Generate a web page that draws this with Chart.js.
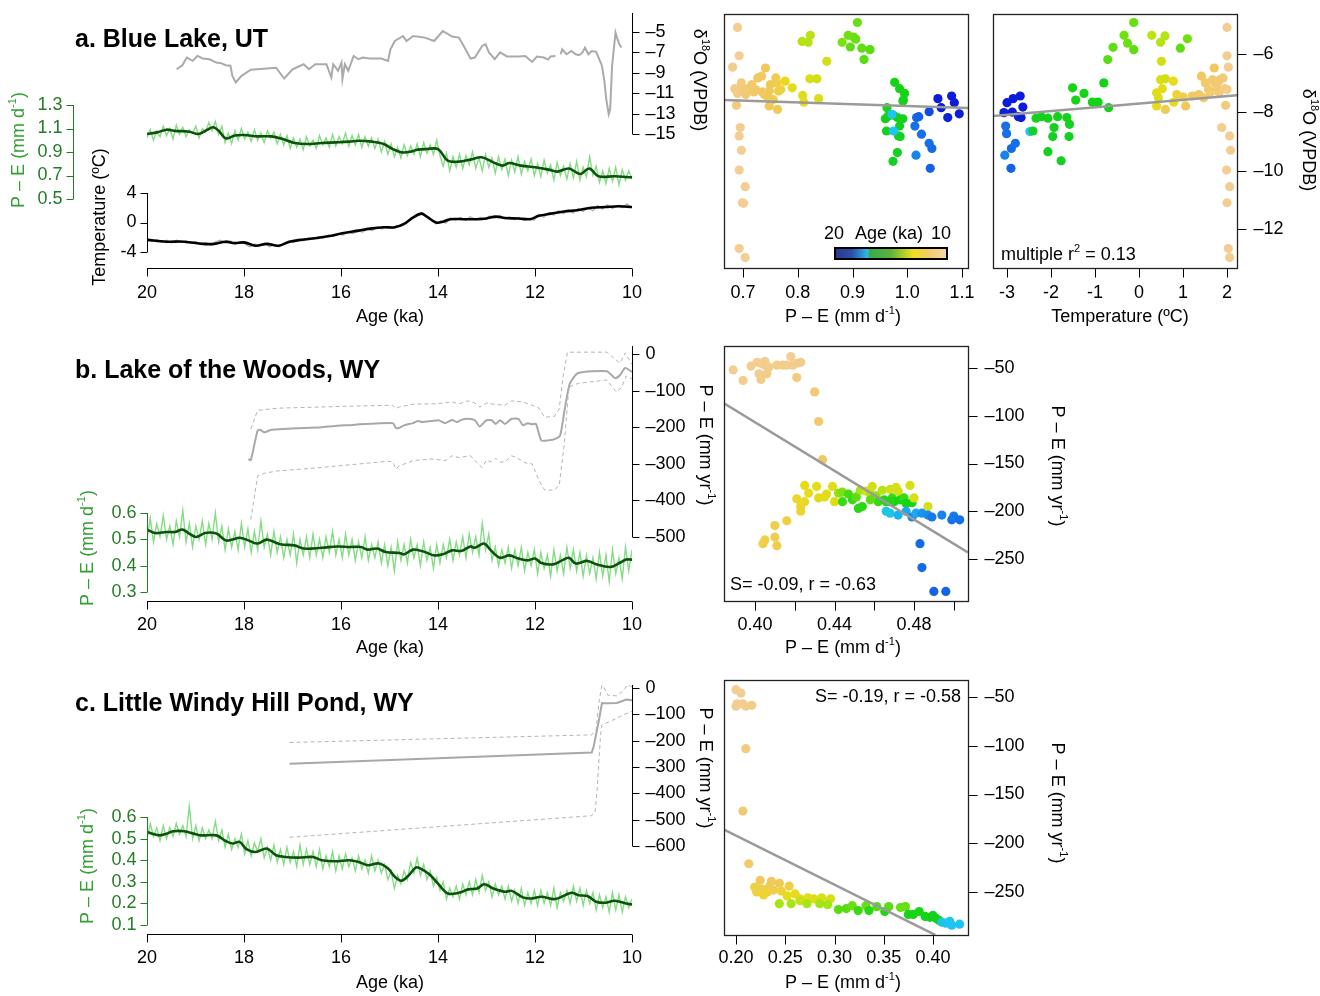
<!DOCTYPE html>
<html><head><meta charset="utf-8">
<script src="https://cdn.jsdelivr.net/npm/chart.js@4.4.1/dist/chart.umd.min.js"></script>
<style>
html,body{margin:0;padding:0;background:#fff;}
#wrap{position:relative;width:1320px;height:996px;overflow:hidden;background:#fff;}
canvas{position:absolute;left:0;top:0;}
</style></head><body><div id="wrap">
<canvas id="cA" width="1320" height="996"></canvas>
<canvas id="cA1" width="1320" height="996"></canvas>
<canvas id="cA2" width="1320" height="996"></canvas>
<canvas id="cB" width="1320" height="996"></canvas>
<canvas id="cB1" width="1320" height="996"></canvas>
<canvas id="cC" width="1320" height="996"></canvas>
<canvas id="cC1" width="1320" height="996"></canvas>
</div>
<script>
// ================= DATA =================
const ageTicks=[20,18,16,14,12,10];
const ageLabels=['20','18','16','14','12','10'];

// --- a. Blue Lake, UT ---
const blD18OAge=[19.39,19.27,19.18,19.06,18.96,18.85,18.71,18.57,18.47,18.38,18.28,18.24,18.17,18.05,17.86,17.34,17.17,17.0,16.77,16.66,16.53,16.3,16.2,16.16,16.06,15.99,15.97,15.92,15.85,15.74,15.64,15.55,15.41,15.17,15.03,14.98,14.89,14.72,14.65,14.51,14.27,14.08,13.9,13.71,13.57,13.47,13.33,13.24,13.09,13.02,12.95,12.83,12.72,12.58,12.34,12.2,12.06,11.96,11.82,11.73,11.68,11.58,11.52,11.47,11.44,11.35,11.25,11.16,11.09,11.02,10.97,10.9,10.83,10.74,10.69,10.62,10.57,10.53,10.48,10.45,10.41,10.34,10.31,10.26,10.22];
const blD18O=[-8.65,-8.26,-7.5,-7.83,-7.35,-7.6,-7.67,-8.0,-8.06,-8.26,-8.3,-9.3,-9.95,-9.3,-8.7,-8.5,-9.56,-8.65,-8.16,-8.65,-8.16,-8.16,-9.46,-8.16,-8.8,-8.0,-9.6,-8.16,-8.8,-7.35,-7.67,-7.5,-7.6,-7.6,-7.83,-6.7,-5.88,-5.39,-5.88,-5.39,-5.55,-5.88,-4.9,-5.45,-5.55,-6.37,-7.6,-7.5,-6.37,-6.2,-7.0,-7.67,-7.0,-7.4,-7.4,-7.35,-7.93,-7.4,-7.5,-7.7,-7.4,-7.35,null,-7.18,-6.7,-7.18,-6.86,-7.18,-7.28,-7.0,-6.53,-7.18,-6.86,-6.95,-7.5,-8.3,-9.8,-11.6,-13.05,-12.56,-8.3,-5.07,-5.55,-6.2,-6.53];
const blPEsmAge=[20.0,19.79,19.6,19.42,19.13,18.94,18.75,18.64,18.52,18.38,18.19,18.0,17.72,17.43,17.2,16.96,16.68,16.4,16.11,15.83,15.64,15.36,15.12,14.93,14.75,14.56,14.42,14.23,14.0,13.8,13.57,13.33,13.1,12.86,12.67,12.53,12.29,12.0,11.72,11.54,11.3,11.07,10.88,10.69,10.36,10.0];
const blPEsm=[1.053,1.067,1.09,1.08,1.073,1.053,1.09,1.11,1.08,1.016,1.04,1.045,1.033,1.033,1.01,0.977,0.968,0.977,0.982,0.988,0.996,0.988,0.968,0.925,0.897,0.903,0.92,0.925,0.925,0.826,0.818,0.835,0.855,0.812,0.784,0.806,0.784,0.77,0.75,0.733,0.76,0.713,0.76,0.693,0.693,0.684];
const blPEraw=[1.02,1.09,1.00,1.08,1.03,1.12,1.04,1.10,1.01,1.13,1.05,1.11,1.03,1.09,1.06,1.12,1.02,1.10,1.07,1.15,1.08,1.16,1.05,1.12,0.98,1.06,0.97,1.08,1.00,1.10,1.01,1.07,0.99,1.09,1.00,1.06,0.98,1.08,1.02,1.07,0.97,1.05,0.96,1.04,0.93,1.02,0.94,1.01,0.92,1.03,0.95,1.00,0.93,1.04,0.96,1.02,0.94,1.05,0.95,1.03,0.97,1.06,0.95,1.04,0.96,1.05,0.94,1.03,0.95,1.02,0.93,1.01,0.90,0.99,0.88,0.97,0.86,0.94,0.85,0.96,0.87,0.95,0.88,0.97,0.86,0.98,0.89,0.96,0.88,1.00,0.87,0.78,0.89,0.74,0.86,0.77,0.88,0.76,0.87,0.79,0.90,0.76,0.85,0.74,0.88,0.77,0.85,0.72,0.86,0.75,0.84,0.70,0.83,0.73,0.86,0.71,0.82,0.74,0.84,0.70,0.80,0.69,0.83,0.72,0.79,0.66,0.81,0.70,0.78,0.67,0.80,0.68,0.82,0.66,0.77,0.69,0.86,0.70,0.78,0.64,0.74,0.63,0.76,0.65,0.77,0.62,0.75,0.66,0.74,0.67];
const blTsmAge=[20.0,19.6,19.23,18.85,18.61,18.38,18.19,18.0,17.76,17.53,17.29,17.06,16.77,16.49,16.2,15.97,15.64,15.36,15.12,14.89,14.7,14.51,14.34,14.23,14.04,13.9,13.75,13.47,13.19,13.0,12.81,12.62,12.34,12.1,11.92,11.68,11.4,11.13,10.84,10.55,10.26,10.0];
const blTsm=[-2.35,-2.6,-2.6,-2.9,-2.9,-2.6,-2.8,-2.7,-3.15,-2.9,-3.15,-2.6,-2.3,-2.1,-1.8,-1.45,-1.1,-0.8,-0.65,-0.65,-0.2,0.7,1.2,0.8,0.0,0.1,0.45,0.45,0.45,0.55,0.8,0.6,0.55,0.45,0.9,1.2,1.5,1.65,2.0,2.1,2.2,2.1];
const blTraw=[-2.1,-2.6,-2.3,-2.7,-2.4,-2.8,-2.4,-2.7,-2.5,-2.8,-2.6,-3.0,-2.7,-3.1,-2.6,-2.4,-2.8,-2.5,-2.9,-2.6,-2.9,-3.3,-2.9,-3.2,-2.8,-3.3,-3.0,-3.3,-2.8,-2.5,-2.7,-2.3,-2.5,-2.1,-2.3,-1.9,-2.1,-1.7,-1.9,-1.5,-1.7,-1.3,-1.5,-1.1,-1.3,-0.9,-1.1,-0.6,-0.9,-0.5,-0.8,-0.4,-0.5,0.0,0.6,0.9,1.4,0.9,0.3,-0.2,0.2,-0.1,0.6,0.3,0.7,0.3,0.8,0.4,0.7,0.5,0.9,0.6,1.0,0.5,0.8,0.4,0.7,0.3,0.6,0.3,1.1,0.7,1.3,1.0,1.6,1.2,1.7,1.3,1.9,1.5,2.0,1.6,2.3,1.8,2.4,1.9,2.3,2.0,2.5,2.0];

// --- b. Lake of the Woods, WY ---
const lwYrAge=[17.91,17.86,17.72,17.67,17.58,17.43,16.4,15.92,14.93,14.87,14.8,14.7,14.6,14.51,14.42,14.32,14.13,13.99,13.85,13.71,13.61,13.52,13.38,13.24,13.14,13.0,12.89,12.81,12.72,12.62,12.48,12.34,12.25,12.15,12.06,11.98,11.87,11.73,11.58,11.48,11.38,11.28,11.11,10.52,10.35,10.25,10.14,10.0];
const lwYr=[-287,-290,-209,-207,-214,-207,-200,-195,-189,-202,-202,-195,-191,-189,-183,-186,-183,-181,-189,-180,-186,-180,-177,-181,-198,-181,-181,-191,-181,-191,-177,-177,-195,-189,-192,-191,-236,-236,-232,-222,-145,-80,-52,-47,-66,-58,-38,-49];
const lwUpAge=[17.86,17.72,17.3,15.92,14.93,14.87,14.8,14.51,14.04,13.71,13.57,13.38,13.24,13.14,13.0,12.81,12.62,12.48,12.25,12.06,11.92,11.8,11.6,11.5,11.42,11.33,10.52,10.25,10.14,10.0];
const lwUp=[-205,-154,-148,-143,-140,-149,-145,-137,-136,-131,-136,-128,-134,-145,-134,-138,-140,-128,-131,-140,-148,-173,-170,-150,-60,5,5,-25,3,-28];
const lwLoAge=[17.86,17.72,17.58,17.34,16.4,15.03,14.93,14.87,14.8,14.51,14.13,13.85,13.71,13.57,13.33,13.24,13.09,13.0,12.9,12.81,12.72,12.62,12.48,12.39,12.25,12.15,12.06,11.92,11.8,11.6,11.5,11.4,11.3,11.1,10.52,10.32,10.22,10.12,10.0];
const lwLo=[-452,-333,-326,-320,-310,-293,-295,-314,-306,-291,-287,-291,-278,-283,-278,-291,-310,-290,-295,-285,-295,-295,-278,-283,-293,-300,-300,-345,-372,-372,-358,-250,-90,-80,-71,-104,-92,-60,-68];
const lwPEsmAge=[20.0,19.84,19.6,19.42,19.27,19.13,18.99,18.8,18.57,18.38,18.24,18.09,17.91,17.72,17.53,17.25,16.96,16.77,16.4,16.07,15.83,15.59,15.45,15.26,15.08,14.79,14.7,14.51,14.27,14.08,13.9,13.71,13.52,13.33,13.24,13.05,12.91,12.72,12.53,12.34,12.15,12.0,11.87,11.63,11.44,11.3,11.16,10.92,10.74,10.45,10.26,10.12,10.0];
const lwPEsm=[0.537,0.524,0.528,0.528,0.537,0.522,0.509,0.524,0.522,0.496,0.499,0.506,0.496,0.484,0.499,0.481,0.477,0.465,0.468,0.473,0.471,0.471,0.461,0.465,0.452,0.448,0.443,0.461,0.452,0.439,0.443,0.458,0.456,0.473,0.468,0.484,0.458,0.43,0.439,0.427,0.42,0.427,0.41,0.405,0.42,0.43,0.408,0.418,0.405,0.395,0.41,0.423,0.423];
const lwPEraw=[0.50,0.58,0.49,0.56,0.51,0.59,0.50,0.55,0.48,0.57,0.51,0.61,0.49,0.56,0.47,0.55,0.50,0.57,0.48,0.56,0.50,0.60,0.49,0.55,0.46,0.54,0.47,0.53,0.46,0.56,0.47,0.54,0.45,0.53,0.46,0.57,0.47,0.52,0.44,0.53,0.45,0.51,0.43,0.50,0.44,0.52,0.41,0.50,0.44,0.51,0.43,0.52,0.44,0.50,0.43,0.51,0.45,0.53,0.44,0.50,0.43,0.52,0.44,0.50,0.42,0.49,0.43,0.51,0.42,0.48,0.43,0.49,0.41,0.48,0.40,0.47,0.38,0.49,0.42,0.48,0.41,0.50,0.43,0.48,0.40,0.49,0.42,0.47,0.39,0.48,0.41,0.48,0.43,0.50,0.42,0.49,0.44,0.51,0.43,0.52,0.45,0.51,0.44,0.56,0.46,0.52,0.42,0.47,0.40,0.46,0.41,0.47,0.39,0.46,0.40,0.47,0.38,0.45,0.40,0.46,0.37,0.45,0.39,0.44,0.36,0.46,0.38,0.44,0.37,0.47,0.39,0.46,0.38,0.45,0.36,0.44,0.37,0.43,0.35,0.45,0.36,0.44,0.34,0.46,0.37,0.43,0.35,0.47,0.38,0.46];

// --- c. Little Windy Hill Pond, WY ---
const lhYrAge=[17.06,10.83,10.79,10.68,10.62,10.5,10.31,10.12,10.0];
const lhYr=[-288,-245,-222,-121,-58,-58,-57,-44,-47];
const lhUpAge=[17.06,10.83,10.74,10.68,10.62,10.57,10.5,10.31,10.17,10.1,10.0];
const lhUp=[-207,-178,-159,-52,11,0,-27,-30,-8,11,5];
const lhLoAge=[17.06,10.83,10.76,10.72,10.65,10.62,10.45,10.31,10.17,10.0];
const lhLo=[-567,-485,-470,-387,-184,-140,-127,-114,-101,-89];
const lhPEsmAge=[20.0,19.89,19.75,19.6,19.46,19.23,19.04,18.9,18.57,18.38,18.24,18.09,17.95,17.76,17.53,17.34,17.15,16.87,16.58,16.4,16.11,15.83,15.64,15.45,15.22,15.03,14.89,14.75,14.6,14.46,14.37,14.18,14.0,13.8,13.57,13.38,13.19,13.05,12.86,12.62,12.48,12.25,12.06,11.87,11.58,11.25,11.1,10.92,10.74,10.55,10.36,10.12,10.0];
const lhPEsm=[0.531,0.523,0.515,0.523,0.534,0.534,0.523,0.515,0.515,0.489,0.477,0.485,0.451,0.438,0.454,0.423,0.415,0.412,0.415,0.4,0.395,0.4,0.392,0.377,0.385,0.362,0.323,0.305,0.331,0.366,0.362,0.335,0.292,0.246,0.249,0.265,0.269,0.289,0.269,0.254,0.258,0.228,0.223,0.231,0.22,0.249,0.238,0.234,0.208,0.203,0.212,0.2,0.195];
const lhPEraw=[0.50,0.57,0.51,0.55,0.49,0.56,0.50,0.55,0.51,0.57,0.52,0.56,0.51,0.65,0.50,0.56,0.49,0.55,0.50,0.54,0.50,0.58,0.49,0.54,0.46,0.52,0.45,0.50,0.46,0.52,0.43,0.49,0.42,0.48,0.44,0.50,0.41,0.46,0.40,0.47,0.39,0.45,0.38,0.46,0.39,0.44,0.37,0.47,0.38,0.45,0.38,0.44,0.37,0.45,0.36,0.42,0.37,0.44,0.35,0.42,0.36,0.43,0.37,0.41,0.35,0.42,0.36,0.40,0.34,0.42,0.35,0.40,0.34,0.38,0.31,0.35,0.27,0.33,0.29,0.35,0.31,0.39,0.34,0.41,0.33,0.38,0.31,0.35,0.28,0.32,0.26,0.30,0.22,0.27,0.23,0.28,0.22,0.29,0.24,0.30,0.24,0.31,0.25,0.33,0.26,0.30,0.23,0.29,0.24,0.28,0.22,0.28,0.21,0.26,0.20,0.27,0.19,0.25,0.20,0.26,0.19,0.26,0.20,0.25,0.19,0.27,0.18,0.25,0.21,0.26,0.20,0.28,0.21,0.27,0.19,0.26,0.20,0.25,0.17,0.24,0.18,0.23,0.16,0.25,0.17,0.24,0.16,0.23,0.18,0.22];

// --- scatter points: [x, y, estimated age (ka)] ---
const scA1=[[0.69,-5.09,10.3],[0.693,-6.06,10.3],[0.681,-6.45,10.4],[0.685,-7.19,10.6],[0.69,-7.35,10.6],[0.697,-6.99,10.8],[0.70,-7.22,10.8],[0.705,-7.39,11],[0.709,-7.19,11],[0.716,-7.05,11.2],[0.723,-7.22,11.2],[0.727,-6.82,11.4],[0.734,-6.76,11.4],[0.741,-6.48,11.5],[0.739,-7.39,11.5],[0.744,-7.44,11.6],[0.748,-7.27,11.6],[0.755,-7.56,11.7],[0.76,-6.82,11.7],[0.762,-6.99,11.8],[0.765,-7.27,11.8],[0.763,-7.9,11.6],[0.769,-7.22,11.9],[0.748,-7.78,11.5],[0.688,-7.76,10.8],[0.72,-7.3,11.3],[0.735,-7.3,11.4],[0.75,-7.05,11.6],
[0.777,-6.93,12.4],[0.79,-7.16,12.6],[0.809,-7.42,12.8],[0.811,-7.65,12.5],[0.822,-6.85,12.9],[0.835,-6.85,13.0],[0.838,-7.53,12.9],[0.853,-6.25,13.0],
[0.695,-8.52,10.3],[0.693,-8.81,10.3],[0.697,-9.3,10.3],[0.693,-9.98,10.3],[0.704,-10.55,10.3],[0.699,-11.1,10.3],[0.701,-11.12,10.3],[0.693,-12.67,10.3],[0.704,-12.98,10.3],
[0.808,-5.57,13.5],[0.819,-5.6,13.5],[0.823,-5.36,13.4],[0.881,-5.6,14.2],[0.892,-5.36,14.3],[0.902,-5.42,14.3],[0.906,-5.49,14.4],[0.909,-4.92,14.4],[0.896,-5.76,14.5],[0.917,-5.8,14.5],[0.921,-6.19,14.6],[0.932,-5.85,14.6],
[0.977,-6.97,15.5],[0.986,-7.19,15.6],[0.995,-7.35,15.6],[0.993,-7.58,15.5],[0.992,-7.61,15.7],[0.963,-7.84,15.8],[0.96,-8.22,16],[0.965,-8.13,16],[0.975,-8.1,16],[0.982,-8.18,16],[0.992,-8.22,16],[0.986,-8.47,16.2],[0.962,-8.64,16.2],[0.984,-8.81,16.3],[0.987,-8.83,16.3],[0.982,-9.38,16.4],[0.974,-9.68,16.4],
[0.972,-8.07,17.3],[0.975,-8.64,17.3],
[1.014,-8.47,18.2],[1.016,-9.47,18],[1.017,-8.18,18.3],[1.021,-8.15,18.4],[1.026,-8.75,18.2],[1.04,-7.98,18.8],[1.04,-9.06,18.2],[1.045,-9.24,18.3],[1.042,-9.92,18.4],
[1.056,-7.53,19.5],[1.062,-7.84,19.5],[1.081,-7.44,19.6],[1.086,-7.67,19.6],[1.074,-8.18,19.4],[1.095,-8.05,19.5]];
const scA2=[[-3.0,-7.67,19.5],[-2.86,-7.53,19.5],[-2.7,-7.44,19.6],[-2.64,-7.82,19.6],[-3.07,-8.01,19.4],[-2.88,-7.99,19.5],[-2.74,-8.15,19.4],[-2.68,-8.18,19.5],
[-3.03,-8.47,18.2],[-3.01,-8.73,18.2],[-3.05,-9.47,18.0],[-2.9,-9.24,18.3],[-2.81,-9.06,18.2],[-2.91,-9.92,18.4],
[-2.48,-8.66,17.3],
[-2.41,-8.64,16.4],[-2.34,-8.2,16],[-2.22,-8.15,16],[-2.07,-8.2,16],[-1.85,-8.15,16],[-1.93,-8.52,16.2],[-1.96,-8.83,16.3],[-2.07,-9.35,16.4],[-1.77,-9.66,16.4],[-1.64,-8.18,16],[-1.58,-8.41,16.2],[-1.59,-8.83,16.3],[-1.51,-7.16,15.6],[-1.44,-7.58,15.5],[-1.25,-7.35,15.6],[-1.06,-7.65,15.7],[-0.93,-7.65,15.7],[-0.8,-6.99,15.5],[-0.69,-7.84,15.8],[-0.71,-6.19,14.6],
[-0.59,-5.77,14.5],[-0.34,-5.36,14.3],[-0.26,-5.63,14.4],[-0.12,-4.92,14.4],[-0.12,-5.85,14.5],[0.29,-5.36,13.4],[0.49,-5.6,13.5],[0.59,-5.38,13.5],[0.94,-5.8,14.5],[1.1,-5.48,14.3],
[0.51,-6.25,13.0],[0.49,-6.88,12.9],[0.6,-6.85,13.0],[0.78,-6.93,12.4],[0.4,-7.33,12.8],[0.53,-7.19,12.6],[0.44,-7.5,12.8],[0.4,-7.78,12.5],[0.6,-7.9,11.6],[0.79,-7.65,12.5],[1.06,-7.78,11.5],[0.86,-7.39,12.0],[1.0,-7.47,11.8],
[1.21,-7.44,11.4],[1.36,-7.39,11.4],[1.42,-6.76,11.4],[1.47,-7.5,11.3],[1.51,-6.99,11.2],[1.58,-7.22,11.2],[1.67,-6.88,11],[1.71,-6.48,11.5],[1.77,-7.16,11],[1.84,-6.88,10.8],[1.91,-6.82,10.8],[1.95,-7.19,10.6],[2.0,-7.22,10.6],[1.82,-7.33,10.8],[1.62,-7.33,11.1],[2.03,-6.45,10.4],[2.0,-6.06,10.3],[2.0,-5.09,10.3],[1.97,-7.76,10.8],[1.88,-8.52,10.3],[2.06,-8.81,10.3],[2.08,-9.3,10.3],[1.99,-9.98,10.3],[2.06,-10.55,10.3],[2.0,-11.1,10.3],[2.03,-12.67,10.3],[2.06,-12.98,10.3],[1.7,-6.95,11.2],[1.8,-6.95,11]];
const scB=[[0.389,-52,10.3],[0.394,-63,10.4],[0.398,-48,10.4],[0.401,-44,10.3],[0.402,-56,10.4],[0.403,-62,10.5],[0.403,-45,10.3],[0.405,-43,10.3],[0.405,-47,10.4],[0.406,-56,10.5],[0.407,-49,10.4],[0.411,-47,10.5],[0.414,-47,10.5],[0.416,-47,10.3],[0.418,-38,10.3],[0.419,-47,10.4],[0.421,-45,10.4],[0.423,-44,10.5],[0.421,-60,10.8],[0.430,-75,11],[0.432,-106,11.2],[0.434,-146,11.4],
[0.404,-234,11.8],[0.405,-230,11.8],[0.41,-227,11.7],[0.411,-236,11.8],[0.41,-215,11.8],[0.416,-210,11.9],[0.423,-200,12.2],[0.423,-195,12.2],[0.421,-187,12.3],[0.425,-190,12.3],[0.425,-173,12.6],[0.427,-181,12.5],[0.431,-174,12.6],[0.432,-186,12.6],[0.435,-185,12.6],[0.436,-182,12.7],[0.439,-174,12.7],[0.44,-190,12.8],
[0.442,-181,14.0],[0.444,-180,14.2],[0.444,-190,15],[0.447,-182,14.8],[0.449,-188,15],[0.451,-185,14.5],[0.452,-197,15.2],[0.453,-178,13.8],[0.454,-195,15.2],[0.456,-179,12.9],[0.458,-181,13.6],[0.459,-174,13],[0.461,-184,14],[0.462,-190,15],[0.464,-178,13.5],[0.465,-188,15.3],[0.468,-177,13],[0.469,-186,15],[0.47,-190,15.5],[0.471,-175,12.9],[0.472,-179,13],[0.473,-188,15.4],[0.475,-186,15],[0.476,-192,15.6],[0.478,-173,12.9],[0.479,-191,15.5],[0.48,-186,12.9],[0.487,-195,12.9],[0.468,-190,15.3],[0.466,-190,15.3],[0.458,-188,14.5],
[0.466,-200,17.2],[0.468,-202,17.2],[0.472,-204,17.5],[0.476,-200,17.6],[0.479,-206,18.0],[0.481,-202,17.6],[0.484,-202,17.8],[0.487,-204,17.9],[0.489,-206,18.1],[0.494,-204,18.0],[0.499,-209,18.2],[0.5,-205,18.1],[0.503,-209,18.2],
[0.483,-234,18.3],[0.484,-259,18.3],[0.49,-284,18.4],[0.496,-284,18.4]];
const scC=[[0.2,-42.5,10.3],[0.205,-46,10.3],[0.2,-59.5,10.4],[0.201,-57,10.3],[0.207,-57,10.4],[0.21,-59.5,10.4],[0.216,-58.5,10.5],[0.21,-103,10.8],[0.207,-167,11],[0.213,-221,11.2],
[0.2245,-238,11.5],[0.236,-239,11.5],[0.244,-241,11.6],[0.254,-244,11.8],[0.221,-250,12],[0.226,-247,11.8],[0.232,-250,12],[0.238,-248,11.8],[0.228,-253,12.2],[0.246,-249,12],[0.219,-245,11.9],[0.234,-244,11.7],
[0.252,-254,12.6],[0.26,-252,12.5],[0.265,-257,12.8],[0.273,-256,12.7],[0.279,-257,12.8],[0.287,-256,12.8],[0.296,-257,12.9],
[0.244,-262,13.7],[0.256,-262,13.7],[0.265,-259,13.3],[0.272,-262,13.7],[0.285,-262,13.8],[0.293,-263,13.8],
[0.304,-268,14.6],[0.312,-267,14.6],[0.318,-264,14.4],[0.324,-269,15],[0.332,-264,14.4],[0.335,-269,15.2],[0.343,-265,14.6],[0.351,-270,15.3],[0.355,-265,14.6],[0.367,-266,14.4],[0.372,-265,14.4],[0.375,-273,15.6],[0.38,-273,15.6],[0.386,-270,15.4],[0.392,-275,15.8],[0.397,-276,16],[0.4,-274,16],[0.403,-277,16.2],[0.406,-279,16.3],
[0.409,-281,17.0],[0.413,-282,17.2],[0.417,-280,17.3],[0.419,-284,17.3],[0.427,-283,17.3]];
// regression line end points
const regA1=[[0.665,-7.58],[1.111,-7.85]];
const regA2=[[-3.32,-8.13],[2.23,-7.41]];
const regB=[[0.3844,-87],[0.5071,-243]];
const regC=[[0.1878,-186],[0.4022,-294]];
const statsB='S= -0.09, r = -0.63';
const statsC='S= -0.19, r = -0.58';

// ================= STYLE / HELPERS =================
const FONT="'Liberation Sans', Arial, Helvetica, sans-serif";
const W=1320,H=996;
const GREEN_AX='#237d23', GREEN_TITLE='#33a033', LIGHT_GREEN='#84dc84', DARK_GREEN='#0b520b';
const cmAge=[10.3,11.5,12.5,13.3,13.8,14.5,15.5,16.5,17.0,17.3,18.2,19.5];
const cmCol=['#f3cd92','#f1c85e','#eadb1a','#c4e214','#a2e414','#5ede12','#14d414','#14d024','#1cc8d8','#1ec4f2','#1670e8','#0c1cd8'];
function hex(c){return [parseInt(c.substr(1,2),16),parseInt(c.substr(3,2),16),parseInt(c.substr(5,2),16)];}
function ageColor(a){
  if(a<=cmAge[0]) return cmCol[0];
  for(let i=1;i<cmAge.length;i++){ if(a<=cmAge[i]){const t=(a-cmAge[i-1])/(cmAge[i]-cmAge[i-1]);const c1=hex(cmCol[i-1]),c2=hex(cmCol[i]);return 'rgb('+c1.map((v,k)=>Math.round(v+(c2[k]-v)*t)).join(',')+')';}}
  return cmCol[cmCol.length-1];
}
function rng(v1,p1,v2,p2,a,b){const k=(p2-p1)/(v2-v1);const va=v1+(a-p1)/k, vb=v1+(b-p1)/k;return {min:Math.min(va,vb),max:Math.max(va,vb)};}
const xy=(xs,ys)=>xs.map((x,i)=>({x:x,y:ys[i]}));
const evenAges=n=>{const r=[];for(let i=0;i<n;i++) r.push(20-i*10/(n-1));return r;};
const pts=arr=>arr.map(p=>({x:p[0],y:p[1]}));

function ln(ctx,x1,y1,x2,y2){ctx.beginPath();ctx.moveTo(x1,y1);ctx.lineTo(x2,y2);ctx.stroke();}
function txt(ctx,s,x,y,align,color,font,base){ctx.font=font||('18px '+FONT);ctx.fillStyle=color||'#000';ctx.textAlign=align||'center';ctx.textBaseline=base||'middle';ctx.fillText(s,x,y);}
function rich(ctx,parts,x,y,rot,color,align,size){
  size=size||18; align=align||'center';
  const f=size+'px '+FONT, fs=Math.round(size*0.62)+'px '+FONT;
  ctx.save(); ctx.translate(x,y); ctx.rotate(rot*Math.PI/180);
  ctx.fillStyle=color||'#000'; ctx.textBaseline='middle'; ctx.textAlign='left';
  let w=0; parts.forEach(p=>{ctx.font=p[1]?fs:f; w+=ctx.measureText(p[0]).width;});
  let cx=align==='center'?-w/2:(align==='right'?-w:0);
  parts.forEach(p=>{ctx.font=p[1]?fs:f; ctx.fillText(p[0],cx,p[1]?-size*0.34:0); cx+=ctx.measureText(p[0]).width;});
  ctx.restore();
}
function vAxis(ctx,s,vals,labels,x,side,o){
  o=o||{}; const len=o.len||7, gap=o.gap||4, col=o.color||'#000';
  const p=v=>s.getPixelForValue(v);
  ctx.save(); ctx.strokeStyle=col; ctx.lineWidth=1;
  const X=Math.round(x)+0.5;
  const y1=o.y1!==undefined?o.y1:p(vals[0]), y2=o.y2!==undefined?o.y2:p(vals[vals.length-1]);
  if(!o.noLine) ln(ctx,X,y1,X,y2);
  vals.forEach((v,i)=>{const y=Math.round(p(v))+0.5; ln(ctx,X,y,side==='left'?X-len:X+len,y);
    if(labels[i]) txt(ctx,labels[i],side==='left'?X-len-gap:X+len+gap,p(v),side==='left'?'right':'left',col);});
  ctx.restore();
}
function hAxis(ctx,s,vals,labels,y,ly,o){
  o=o||{}; const len=o.len||8;
  const p=v=>s.getPixelForValue(v);
  ctx.save(); ctx.strokeStyle='#000'; ctx.lineWidth=1;
  const Y=Math.round(y)+0.5;
  if(!o.noLine) ln(ctx,p(vals[0]),Y,p(vals[vals.length-1]),Y);
  vals.forEach((v,i)=>{const x=Math.round(p(v))+0.5; ln(ctx,x,Y,x,Y+len); if(labels[i]) txt(ctx,labels[i],p(v),ly,'center','#000');});
  ctx.restore();
}
function box(ctx,a){ctx.save();ctx.strokeStyle='#222';ctx.lineWidth=1.3;ctx.strokeRect(a.left+0.5,a.top+0.5,a.right-a.left,a.bottom-a.top);ctx.restore();}
function title(ctx,s,y){txt(ctx,s,75,y,'left','#000','bold 25px '+FONT,'alphabetic');}

function mk(id,area,scales,datasets,draw){
  Object.keys(scales).forEach(k=>{scales[k].type='linear';scales[k].display=false;});
  return new Chart(document.getElementById(id),{
    type:'scatter',
    data:{datasets:datasets},
    options:{responsive:false,animation:false,devicePixelRatio:1,events:[],
      layout:{padding:{left:area.l,right:W-area.r,top:area.t,bottom:H-area.b}},
      plugins:{legend:{display:false},tooltip:{enabled:false}},
      scales:scales},
    plugins:[{id:'deco_'+id,afterDraw(c){c.ctx.save();draw(c,c.ctx);c.ctx.restore();}}]
  });
}
function lineDS(data,color,width,yid,extra){return Object.assign({type:'line',data:data,borderColor:color,borderWidth:width,pointRadius:0,fill:false,tension:0,yAxisID:yid,xAxisID:'x',spanGaps:false},extra||{});}
function scatDS(arr){return {type:'scatter',data:pts(arr),backgroundColor:arr.map(p=>ageColor(p[2])),borderWidth:0,pointRadius:4.6,order:2};}
function regDS(r){return {type:'line',data:pts(r),borderColor:'#9a9a9a',borderWidth:2.5,pointRadius:0,tension:0,order:0};}
const ageX={min:10,max:20,reverse:true};
const mmd=[['P – E (mm d'],['-1',1],[')']];
const mmyr=[['P – E (mm yr'],['-1',1],[')']];
const d18=[['δ'],['18',1],['O (VPDB)']];
const NOISE_W=1.4;

// ================= PANEL a =================
mk('cA',{l:147,r:632,t:13,b:268},
 {x:Object.assign({},ageX), yP:rng(1.3,105,0.5,199,13,268), yT:rng(4,193,-4,252,13,268), yO:rng(-5,32,-15,134,13,268)},
 [
  lineDS(xy(blD18OAge,blD18O),'#aaaaaa',2,'yO',{order:3}),
  lineDS(xy(evenAges(blPEraw.length),blPEraw),LIGHT_GREEN,NOISE_W,'yP',{order:2}),
  lineDS(xy(blPEsmAge,blPEsm),DARK_GREEN,2.6,'yP',{order:1,tension:0.35}),
  lineDS(xy(evenAges(blTraw.length),blTraw),'#a8a8a8',1.2,'yT',{order:2}),
  lineDS(xy(blTsmAge,blTsm),'#000',2.6,'yT',{order:0,tension:0.35})
 ],
 function(c,ctx){
  const s=c.scales;
  title(ctx,'a. Blue Lake, UT',47);
  hAxis(ctx,s.x,ageTicks,ageLabels,268,293);
  txt(ctx,'Age (ka)',390,317);
  vAxis(ctx,s.yP,[1.3,1.1,0.9,0.7,0.5],['1.3','1.1','0.9','0.7','0.5'],73,'left',{color:GREEN_AX});
  rich(ctx,mmd,19,150,-90,GREEN_TITLE);
  vAxis(ctx,s.yT,[4,0,-4],['4','0','-4'],147,'left');
  rich(ctx,[['Temperature (ºC)']],100,217,-90,'#000');
  vAxis(ctx,s.yO,[-5,-7,-9,-11,-13,-15],['–5','–7','–9','–11','–13','–15'],632,'right',{y1:c.chartArea.top,gap:6});
  rich(ctx,d18,699,80,90,'#000');
 });

mk('cA1',{l:724,r:968,t:14,b:268},
 {x:rng(0.7,743,1.1,962,724,968), y:rng(-6,54,-12,229,14,268)},
 [regDS(regA1), scatDS(scA1)],
 function(c,ctx){
  const s=c.scales,a=c.chartArea;
  box(ctx,a);
  hAxis(ctx,s.x,[0.7,0.8,0.9,1.0,1.1],['0.7','0.8','0.9','1.0','1.1'],a.bottom,293,{noLine:true,len:9});
  rich(ctx,mmd,843,317,0,'#000');
  txt(ctx,'20',834,234); txt(ctx,'Age (ka)',889,234); txt(ctx,'10',941,234);
  const g=ctx.createLinearGradient(835,0,947,0);
  [[0,'#2a3990'],[0.15,'#2c4fa8'],[0.24,'#2f8fd0'],[0.29,'#2ebbe8'],[0.31,'#3aa94a'],[0.5,'#5db33a'],[0.62,'#b8cf2a'],[0.7,'#efe020'],[0.82,'#f2cc62'],[1,'#f6d8ac']].forEach(st=>g.addColorStop(st[0],st[1]));
  ctx.fillStyle=g; ctx.fillRect(835,248,112,11);
  ctx.strokeStyle='#000'; ctx.lineWidth=2; ctx.strokeRect(835,248,112,11);
 });

mk('cA2',{l:993,r:1237,t:14,b:268},
 {x:rng(-3,1007,2,1227,993,1237), y:rng(-6,54,-12,229,14,268)},
 [regDS(regA2), scatDS(scA2)],
 function(c,ctx){
  const s=c.scales,a=c.chartArea;
  box(ctx,a);
  hAxis(ctx,s.x,[-3,-2,-1,0,1,2],['-3','-2','-1','0','1','2'],a.bottom,293,{noLine:true,len:9});
  rich(ctx,[['Temperature (ºC)']],1120,317,0,'#000');
  vAxis(ctx,s.y,[-6,-8,-10,-12],['–6','–8','–10','–12'],a.right,'right',{noLine:true,len:9,gap:7});
  rich(ctx,d18,1308,140,90,'#000');
  rich(ctx,[['multiple r'],['2',1],[' = 0.13']],1001,255,0,'#000','left');
 });

// ================= PANEL b =================
mk('cB',{l:147,r:632,t:346,b:601},
 {x:Object.assign({},ageX), yP:rng(0.6,513,0.3,592,346,601), yR:rng(0,354,-500,537,346,601)},
 [
  lineDS(xy(lwUpAge,lwUp),'#b4b4b4',1,'yR',{order:3,borderDash:[4,3]}),
  lineDS(xy(lwLoAge,lwLo),'#b4b4b4',1,'yR',{order:3,borderDash:[4,3]}),
  lineDS(xy(lwYrAge,lwYr),'#a8a8a8',2,'yR',{order:3,tension:0.2}),
  lineDS(xy(evenAges(lwPEraw.length),lwPEraw),LIGHT_GREEN,NOISE_W,'yP',{order:2}),
  lineDS(xy(lwPEsmAge,lwPEsm),DARK_GREEN,2.6,'yP',{order:1,tension:0.35})
 ],
 function(c,ctx){
  const s=c.scales;
  title(ctx,'b. Lake of the Woods, WY',378);
  hAxis(ctx,s.x,ageTicks,ageLabels,601,625);
  txt(ctx,'Age (ka)',390,648);
  vAxis(ctx,s.yP,[0.6,0.5,0.4,0.3],['0.6','0.5','0.4','0.3'],147,'left',{color:GREEN_AX});
  rich(ctx,mmd,88,548,-90,GREEN_TITLE);
  vAxis(ctx,s.yR,[0,-100,-200,-300,-400,-500],['0','–100','–200','–300','–400','–500'],632,'right',{y1:c.chartArea.top,gap:6});
  rich(ctx,mmyr,705,445,90,'#000');
 });

mk('cB1',{l:724,r:968,t:346,b:601},
 {x:rng(0.40,755,0.48,914,724,968), y:rng(-50,368,-250,559,346,601)},
 [regDS(regB), scatDS(scB)],
 function(c,ctx){
  const s=c.scales,a=c.chartArea;
  box(ctx,a);
  hAxis(ctx,s.x,[0.40,0.42,0.44,0.46,0.48,0.50],['0.40','','0.44','','0.48',''],a.bottom,625,{noLine:true,len:9});
  rich(ctx,mmd,843,648,0,'#000');
  vAxis(ctx,s.y,[-50,-100,-150,-200,-250],['–50','–100','–150','–200','–250'],a.right,'right',{noLine:true,len:9,gap:7});
  rich(ctx,mmyr,1057,466,90,'#000');
  txt(ctx,statsB,730,585,'left');
 });

// ================= PANEL c =================
mk('cC',{l:147,r:632,t:678,b:934},
 {x:Object.assign({},ageX), yP:rng(0.6,817,0.1,925,678,934), yR:rng(0,688,-600,846,678,934)},
 [
  lineDS(xy(lhUpAge,lhUp),'#b4b4b4',1,'yR',{order:3,borderDash:[4,3]}),
  lineDS(xy(lhLoAge,lhLo),'#b4b4b4',1,'yR',{order:3,borderDash:[4,3]}),
  lineDS(xy(lhYrAge,lhYr),'#a8a8a8',2,'yR',{order:3}),
  lineDS(xy(evenAges(lhPEraw.length),lhPEraw),LIGHT_GREEN,NOISE_W,'yP',{order:2}),
  lineDS(xy(lhPEsmAge,lhPEsm),DARK_GREEN,2.6,'yP',{order:1,tension:0.35})
 ],
 function(c,ctx){
  const s=c.scales;
  title(ctx,'c. Little Windy Hill Pond, WY',711);
  hAxis(ctx,s.x,ageTicks,ageLabels,934,958);
  txt(ctx,'Age (ka)',390,983);
  vAxis(ctx,s.yP,[0.6,0.5,0.4,0.3,0.2,0.1],['0.6','0.5','0.4','0.3','0.2','0.1'],147,'left',{color:GREEN_AX});
  rich(ctx,mmd,88,866,-90,GREEN_TITLE);
  vAxis(ctx,s.yR,[0,-100,-200,-300,-400,-500,-600],['0','–100','–200','–300','–400','–500','–600'],632,'right',{y1:685,gap:6});
  rich(ctx,mmyr,705,768,90,'#000');
 });

mk('cC1',{l:724,r:968,t:680,b:935},
 {x:rng(0.20,736,0.40,933,724,968), y:rng(-50,697,-250,892,680,935)},
 [regDS(regC), scatDS(scC)],
 function(c,ctx){
  const s=c.scales,a=c.chartArea;
  box(ctx,a);
  hAxis(ctx,s.x,[0.20,0.25,0.30,0.35,0.40],['0.20','0.25','0.30','0.35','0.40'],a.bottom,958,{noLine:true,len:9});
  rich(ctx,mmd,843,983,0,'#000');
  vAxis(ctx,s.y,[-50,-100,-150,-200,-250],['–50','–100','–150','–200','–250'],a.right,'right',{noLine:true,len:9,gap:7});
  rich(ctx,mmyr,1057,803,90,'#000');
  txt(ctx,statsC,961,697,'right');
 });
</script>
</body></html>
